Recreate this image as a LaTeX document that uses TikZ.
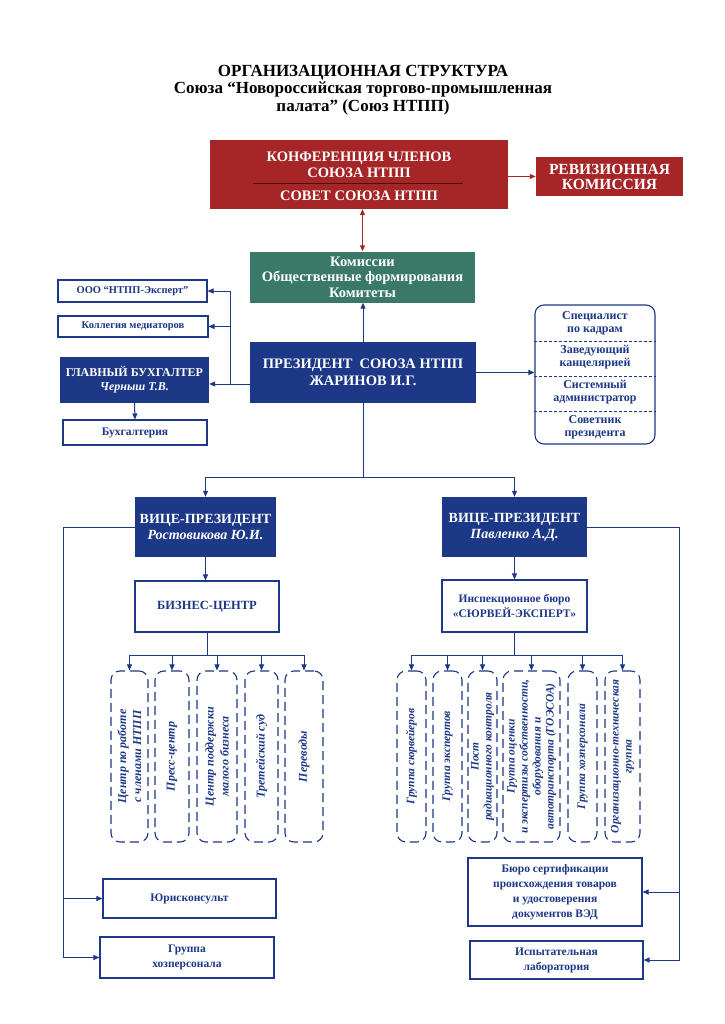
\documentclass[tikz,border=0pt]{standalone}
\usepackage{fontspec}
\setmainfont{Liberation Serif}
\usetikzlibrary{positioning}
\usetikzlibrary{arrows.meta}

\definecolor{nblue}{RGB}{28,56,134}
\definecolor{nred}{RGB}{166,38,40}
\definecolor{ngreen}{RGB}{58,121,104}
\newcommand\fsz[2]{\fontsize{#1}{#2}\selectfont}

\tikzset{
  line/.style={draw=nblue,line width=1pt},
  arr/.style={line,-{Triangle[length=6pt,width=5pt]}},
  redarr/.style={draw=nred,line width=1pt,{Triangle[length=6pt,width=5pt]}-{Triangle[length=6pt,width=5pt]}},
  wbox/.style={draw=nblue,line width=1.1pt,fill=white,text=nblue,align=center,
    inner sep=1pt,font=\bfseries\fsz{11.5}{15}},
  bbox/.style={fill=nblue,text=white,align=center,inner sep=1pt,font=\bfseries\fsz{14}{16}},
  rbox/.style={fill=nred,text=white,align=center,inner sep=1pt,font=\bfseries\fsz{14.5}{16}},
  dbox/.style={draw=nblue,line width=1.1pt,dash pattern=on 9pt off 5pt,rounded corners=9pt,
    minimum height=171pt,inner sep=0pt},
  vtext/.style={rotate=90,text=nblue,align=center,font=\bfseries\itshape\fsz{12}{15}},
  stext/.style={text=nblue,align=center,font=\bfseries\fsz{12}{13}},
}

\begin{document}
\begin{tikzpicture}[x=1pt,y=-1pt]
  \fill[white] (0,0) rectangle (724,1024);
  \useasboundingbox (0,0) rectangle (724,1024);

  %% title
  \node[align=center,font=\bfseries\fsz{17}{17.5}] (title) at (363,90)
    {ОРГАНИЗАЦИОННАЯ СТРУКТУРА\\Союза “Новороссийская торгово-промышленная\\палата” (Союз НТПП)};

  %% conference and council
  \node[rbox,minimum width=298pt,minimum height=69pt] (conf) at (359,174.5) {};
  \node[rbox,fill=none] (confname) at (359,165) {КОНФЕРЕНЦИЯ ЧЛЕНОВ\\СОЮЗА НТПП};
  \draw[nred!45!black,line width=0.6pt] (253,183) -- (463,183);
  \node[rbox,fill=none] (sovet) at (359,196) {СОВЕТ СОЮЗА НТПП};
  \node[rbox,font=\bfseries\fsz{15.5}{15},minimum width=147pt,minimum height=39pt] (rev) at (609.5,176.5) {РЕВИЗИОННАЯ\\КОМИССИЯ};
  \draw[redarr,{}-{Triangle[length=6pt,width=5pt]}] (conf.east |- rev.west) -- (rev.west);

  %% commissions
  \node[fill=ngreen,text=white,align=center,font=\bfseries\fsz{14.5}{15.5},
    minimum width=225pt,minimum height=51pt] (komis) at (362.5,277)
    {Комиссии\\Общественные формирования\\Комитеты};
  \draw[redarr] (komis.north) -- (komis.north |- conf.south);

  %% president
  \node[bbox,font=\bfseries\fsz{14.5}{17},minimum width=226pt,minimum height=61pt] (pres) at (363,372.5)
    {ПРЕЗИДЕНТ\ \ СОЮЗА НТПП\\ЖАРИНОВ И.Г.};
  \draw[arr] (pres.north) -- (pres.north |- komis.south);

  %% left column
  \node[wbox,font=\bfseries\fsz{10.5}{12},minimum width=149pt,minimum height=22pt] (ooo) at (132.5,291) {ООО “НТПП-Эксперт”};
  \node[wbox,font=\bfseries\fsz{10.5}{12},minimum width=150pt,minimum height=21pt] (koll) at (133,326.5) {Коллегия медиаторов};
  \node[bbox,font=\bfseries\fsz{12}{14},minimum width=149pt,minimum height=46pt] (glav) at (134.5,380)
    {ГЛАВНЫЙ БУХГАЛТЕР\\{\itshape Черныш Т.В.}};
  \node[wbox,minimum width=144pt,minimum height=25pt] (buh) at (135,432.5) {Бухгалтерия};
  \coordinate (lj) at (230,384);
  \draw[line] (pres.west |- lj) -- (lj);
  \draw[arr] (lj) -- (glav.east |- lj);
  \draw[arr] (lj) |- (koll.east);
  \draw[arr] (lj) |- (ooo.east);
  \draw[arr] (glav.south) -- (buh.north);

  %% staff
  \node[draw=nblue,line width=1.1pt,rounded corners=9pt,minimum width=120pt,minimum height=139pt] (staff) at (595,374.5) {};
  \foreach \y in {341,376,411}
    \draw[nblue,line width=0.5pt,dash pattern=on 3pt off 2pt] (staff.west |- 0,\y) -- (staff.east |- 0,\y);
  \foreach \y/\t [count=\i] in {323.5/{Специалист\\по кадрам},357/{Заведующий\\канцелярией},
      392/{Системный\\администратор},427.5/{Советник\\президента}}
    \node[stext] (st\i) at (595,\y) {\t};
  \draw[arr] (pres.east) -- (staff.west |- pres.east);

  %% vice presidents
  \node[bbox,minimum width=141pt,minimum height=60pt] (vp1) at (205.5,527) {ВИЦЕ-ПРЕЗИДЕНТ\\{\itshape Ростовикова Ю.И.}};
  \node[bbox,minimum width=145pt,minimum height=60pt] (vp2) at (514.5,527) {ВИЦЕ-ПРЕЗИДЕНТ\\{\itshape Павленко А.Д.}};
  \coordinate (vj) at (363,477);
  \draw[line] (pres.south) -- (vj);
  \draw[arr] (vj) -| (vp1.north);
  \draw[arr] (vj) -| (vp2.north);

  \node[wbox,font=\bfseries\fsz{12.5}{15},minimum width=144pt,minimum height=51pt] (biz) at (207,606.5) {БИЗНЕС-ЦЕНТР};
  \node[wbox,minimum width=145pt,minimum height=52pt] (insp) at (514.5,606) {Инспекционное бюро\\«СЮРВЕЙ-ЭКСПЕРТ»};
  \draw[arr] (vp1.south) -- (vp1.south |- biz.north);
  \draw[arr] (vp2.south) -- (vp2.south |- insp.north);

  %% business centre units
  \foreach \cx/\w/\t [count=\i] in {129.5/37/{Центр по работе\\с членами НТПП},172/34/{Пресс-центр},
      217/40/{Центр поддержки\\малого бизнеса},261.5/33/{Третейский суд},304/38/{Переводы}} {
    \node[dbox,minimum width=\w pt] (bl\i) at (\cx,756.5) {};
    \node[vtext] (tl\i) at (bl\i) {\t};
  }
  \coordinate (bjl) at (207,655);
  \draw[line] (biz.south) -- (bjl);
  \draw[line] (bl1.north |- bjl) -- (bl5.north |- bjl);
  \foreach \i in {1,...,5}
    \draw[arr] (bl\i.north |- bjl) -- (bl\i.north);

  %% inspection bureau units
  \foreach \cx/\w/\t [count=\i] in {411.5/29/{Группа сюрвейеров},447.5/29/{Группа экспертов},
      482.5/29/{Пост\\радиационного контроля},
      531.5/57/{Группа оценки\\и экспертизы собственности,\\оборудования и\\автотранспорта (ГОЭСОА)},
      582.5/29/{Группа хозперсонала},622.5/35/{Организационно-техническая\\группа}} {
    \node[dbox,minimum width=\w pt] (br\i) at (\cx,756.5) {};
    \node[vtext,font=\bfseries\itshape\fsz{11.5}{13}] (tr\i) at (br\i) {\t};
  }
  \coordinate (bjr) at (514.5,655);
  \draw[line] (insp.south) -- (bjr);
  \draw[line] (br1.north |- bjr) -- (br6.north |- bjr);
  \foreach \i in {1,...,6}
    \draw[arr] (br\i.north |- bjr) -- (br\i.north);

  %% bottom boxes
  \node[wbox,minimum width=173pt,minimum height=39pt] (jur) at (189.5,898.5) {Юрисконсульт};
  \node[wbox,minimum width=174pt,minimum height=41pt] (hoz) at (187,957.5) {Группа\\хозперсонала};
  \node[wbox,minimum width=174pt,minimum height=68pt] (buro) at (555,892)
    {Бюро сертификации\\происхождения товаров\\и удостоверения\\документов ВЭД};
  \node[wbox,minimum width=173pt,minimum height=38pt] (lab) at (556.5,960) {Испытательная\\лаборатория};
  \coordinate (ll) at (63,527);
  \draw[line] (vp1.west) -- (ll);
  \draw[arr] (ll) |- (jur.west);
  \draw[arr] (ll) |- (hoz.west);
  \coordinate (rl) at (679,527);
  \draw[line] (vp2.east) -- (rl);
  \draw[arr] (rl) |- (buro.east);
  \draw[arr] (rl) |- (lab.east);
\end{tikzpicture}
\end{document}
